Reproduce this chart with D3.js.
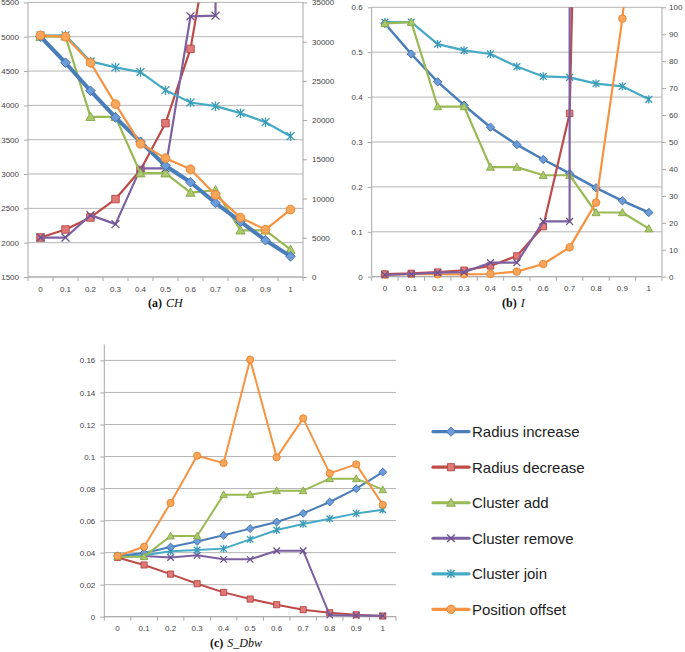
<!DOCTYPE html>
<html><head><meta charset="utf-8">
<script src="https://cdn.jsdelivr.net/npm/d3@7"></script>
<style>
html,body{margin:0;padding:0;background:#fff;}
svg{display:block;}
</style></head>
<body>
<svg id="chart" width="685" height="652"></svg>
<script>
// ---------- DATA ----------
const xCats = ["0","0.1","0.2","0.3","0.4","0.5","0.6","0.7","0.8","0.9","1"];
const seriesNames = ["Radius increase","Radius decrease","Cluster add","Cluster remove","Cluster join","Position offset"];

// (a) CH  — left axis series
const chRadiusIncrease = [5000,4621,4212,3824,3469,3120,2880,2579,2307,2035,1801];
const chClusterAdd     = [5000,5005,3833,3833,3012,3012,2730,2764,2180,2180,1899];
const chClusterJoin    = [5018,5020,4640,4553,4485,4222,4042,3989,3887,3755,3551];
const chPositionOffset = [5019,5000,4621,4018,3440,3231,3070,2696,2365,2190,2482];
// (a) CH — right axis series
const chRadiusDecrease = [5030,6053,7588,9933,13641,19610,29074,47500,90000,200000,500000];
const chClusterRemove  = [5030,5030,7886,6735,13845,13845,33225,33310,1000000,1000000,1000000];
const chLeftTicks  = [1500,2000,2500,3000,3500,4000,4500,5000,5500];
const chRightTicks = [0,5000,10000,15000,20000,25000,30000,35000];

// (b) I — left axis series
const iRadiusIncrease = [0.564,0.496,0.434,0.382,0.333,0.294,0.261,0.230,0.198,0.169,0.143];
const iClusterAdd     = [0.564,0.567,0.379,0.379,0.244,0.244,0.226,0.226,0.143,0.143,0.107];
const iClusterJoin    = [0.567,0.567,0.518,0.504,0.496,0.468,0.446,0.444,0.430,0.424,0.395];
// (b) I — right axis series
const iRadiusDecrease = [1.0,1.2,1.7,2.4,4.0,7.7,18.6,60.6,480,2000,5000];
const iClusterRemove  = [0.7,1.0,1.5,1.7,5.2,5.2,20.5,20.5,100000,100000,100000];
const iPositionOffset = [0.7,1.0,0.9,0.9,1.0,1.9,4.7,10.9,27.5,95.8,200];
const iLeftTicks  = [0,0.1,0.2,0.3,0.4,0.5,0.6];
const iRightTicks = [0,10,20,30,40,50,60,70,80,90,100];

// (c) S_Dbw
const sRadiusIncrease = [0.0379,0.0398,0.0435,0.0470,0.0508,0.0550,0.0591,0.0645,0.0716,0.0799,0.0903];
const sRadiusDecrease = [0.0370,0.0323,0.0266,0.0206,0.0152,0.0110,0.0075,0.0044,0.0025,0.0012,0.0004];
const sClusterAdd     = [0.0375,0.0375,0.0504,0.0504,0.0762,0.0762,0.0787,0.0787,0.0862,0.0862,0.0793];
const sClusterRemove  = [0.0375,0.0379,0.0370,0.0383,0.0358,0.0358,0.0412,0.0412,0.0010,0.0008,0.0006];
const sClusterJoin    = [0.0379,0.0383,0.0408,0.0416,0.0425,0.0483,0.0541,0.0579,0.0612,0.0645,0.0668];
const sPositionOffset = [0.0379,0.0437,0.0710,0.1005,0.0959,0.1605,0.0995,0.1238,0.0895,0.0951,0.0699];
const sTicks = [0,0.02,0.04,0.06,0.08,0.1,0.12,0.14,0.16];

// ---------- STYLE ----------
const lineColors   = ["#4a7ebb","#be4b48","#98b954","#7d60a0","#46aac5","#f69240"];
const markerFill   = ["#6b9bd9","#e07a78","#abc96c","#9179b4","#5cbdd6","#f9a55a"];
const markerStroke = ["#3f6fa8","#b44441","#86a648","#6d5290","#3a9ab5","#e9812f"];
const markerKinds  = ["diamond","square","triangle","x","asterisk","circle"];

const svg = d3.select("#chart");
const defs = svg.append("defs");
const tickFont = "Liberation Sans, Arial, sans-serif";

function markerPath(kind, s){
  const p = d3.path();
  if(kind==="diamond"){ const r=4.4*s; p.moveTo(0,-r);p.lineTo(r,0);p.lineTo(0,r);p.lineTo(-r,0);p.closePath(); }
  else if(kind==="square"){ const r=3.4*s; p.rect(-r,-r,2*r,2*r); }
  else if(kind==="triangle"){ const r=4.2*s; p.moveTo(0,-r);p.lineTo(r,r*0.8);p.lineTo(-r,r*0.8);p.closePath(); }
  else if(kind==="circle"){ const r=4*s; p.arc(0,0,r,0,2*Math.PI); }
  else if(kind==="x"){ const r=3.6*s; p.moveTo(-r,-r);p.lineTo(r,r);p.moveTo(r,-r);p.lineTo(-r,r); }
  else if(kind==="asterisk"){ const r=3.6*s; p.moveTo(-r,-r);p.lineTo(r,r);p.moveTo(r,-r);p.lineTo(-r,r);p.moveTo(0,-r*1.2);p.lineTo(0,r*1.2); }
  return p.toString();
}

function drawMarker(g, kind, idx, cx, cy, s){
  const stroked = (kind==="x"||kind==="asterisk");
  g.append("path").attr("d", markerPath(kind,s))
    .attr("transform",`translate(${cx},${cy})`)
    .attr("fill", stroked ? "none" : markerFill[idx])
    .attr("stroke", markerStroke[idx])
    .attr("stroke-width", stroked ? 1.3 : 0.9);
}

function drawPanel(cfg){
  const g = svg.append("g");
  const x = d3.scalePoint().domain(xCats).range([cfg.x0,cfg.x1]).padding(0.5);
  const yL = d3.scaleLinear().domain(cfg.leftDomain).range([cfg.yBot,cfg.yTop]);
  const yR = cfg.rightDomain ? d3.scaleLinear().domain(cfg.rightDomain).range([cfg.yBot,cfg.yTop]) : null;
  const step = x.step();

  // gridlines
  g.append("g").selectAll("line").data(cfg.leftTicks).join("line")
    .attr("x1",cfg.x0).attr("x2",cfg.x1)
    .attr("y1",d=>yL(d)).attr("y2",d=>yL(d))
    .attr("stroke","#b5b5b5").attr("stroke-width",1);

  // left axis
  const la = g.append("g").attr("transform",`translate(${cfg.x0},0)`)
    .call(d3.axisLeft(yL).tickValues(cfg.leftTicks).tickSize(4).tickPadding(5).tickFormat(d=>String(d)));
  la.select(".domain").attr("stroke","#a8a8a8").attr("d",`M-0,${cfg.yBot}V${cfg.yTop}`);
  la.selectAll(".tick line").attr("stroke","#a8a8a8");
  la.selectAll("text").attr("font-family",tickFont).attr("font-size",8).attr("fill","#444");

  if(yR){
    const ra = g.append("g").attr("transform",`translate(${cfg.x1},0)`)
      .call(d3.axisRight(yR).tickValues(cfg.rightTicks).tickSize(4).tickPadding(cfg.rightPad).tickFormat(d=>String(d)));
    ra.select(".domain").attr("stroke","#a8a8a8").attr("d",`M0,${cfg.yBot}V${cfg.yTop}`);
    ra.selectAll(".tick line").attr("stroke","#a8a8a8");
    ra.selectAll("text").attr("font-family",tickFont).attr("font-size",8).attr("fill","#444");
  }

  // x axis
  const xa = g.append("g").attr("transform",`translate(0,${cfg.yBot})`);
  xa.append("line").attr("x1",cfg.x0).attr("x2",cfg.x1).attr("y1",0).attr("y2",0).attr("stroke","#a8a8a8");
  const bounds = d3.range(xCats.length+1).map(i=>cfg.x0+i*step);
  xa.selectAll("line.tk").data(bounds).join("line").attr("class","tk")
    .attr("x1",d=>d).attr("x2",d=>d).attr("y1",0).attr("y2",4).attr("stroke","#a8a8a8");
  xa.selectAll("text").data(xCats).join("text")
    .attr("x",d=>x(d)).attr("y",14.5).attr("text-anchor","middle")
    .attr("font-family",tickFont).attr("font-size",8).attr("fill","#444").text(d=>d);

  // clip
  const cid = "clip"+cfg.id;
  defs.append("clipPath").attr("id",cid).append("rect")
    .attr("x",cfg.x0-8).attr("y",cfg.yTop).attr("width",cfg.x1-cfg.x0+16).attr("height",cfg.yBot-cfg.yTop+8);

  const plot = g.append("g").attr("clip-path",`url(#${cid})`);
  cfg.series.forEach(sr=>{
    const y = sr.axis==="right" ? yR : yL;
    const line = d3.line().x((d,i)=>x(xCats[i])).y(d=>y(d));
    sr.el = plot.append("g");
    sr.el.append("path").datum(sr.values).attr("d",line)
      .attr("fill","none").attr("stroke",lineColors[sr.idx])
      .attr("stroke-width",sr.width||2).attr("stroke-linejoin","round").attr("stroke-linecap","round");
  });
  cfg.series.forEach(sr=>{
    const y = sr.axis==="right" ? yR : yL;
    sr.values.forEach((v,i)=>{
      const py = y(v);
      if(py < cfg.yTop-6) return;
      drawMarker(sr.el, markerKinds[sr.idx], sr.idx, x(xCats[i]), py, cfg.ms);
    });
  });

  // caption
  const cap = svg.append("text").attr("x",cfg.capX).attr("y",cfg.capY)
    .attr("font-family","Liberation Serif, 'DejaVu Serif', serif").attr("font-size",12).attr("fill","#111");
  cap.append("tspan").attr("font-weight","bold").text(cfg.capA);
  cap.append("tspan").attr("font-style","italic").attr("dx",4).text(cfg.capB);
}

drawPanel({
  id:"a", x0:28, x1:303, yTop:2.4, yBot:277,
  leftDomain:[1500,5500], leftTicks:chLeftTicks,
  rightDomain:[0,35000], rightTicks:chRightTicks, rightPad:5,
  ms:1.1, capX:148, capY:307, capA:"(a)", capB:"CH",
  series:[
    {idx:1, values:chRadiusDecrease, axis:"right", width:2.2},
    {idx:3, values:chClusterRemove, axis:"right", width:2.2},
    {idx:4, values:chClusterJoin, axis:"left", width:2.2},
    {idx:2, values:chClusterAdd, axis:"left", width:2.2},
    {idx:0, values:chRadiusIncrease, axis:"left", width:4},
    {idx:5, values:chPositionOffset, axis:"left", width:2.2}
  ]
});

drawPanel({
  id:"b", x0:371.7, x1:662, yTop:7.3, yBot:276.7,
  leftDomain:[0,0.6], leftTicks:iLeftTicks,
  rightDomain:[0,100], rightTicks:iRightTicks, rightPad:3,
  ms:0.95, capX:502, capY:307, capA:"(b)", capB:"I",
  series:[
    {idx:4, values:iClusterJoin, axis:"left", width:2.2},
    {idx:0, values:iRadiusIncrease, axis:"left", width:2.5},
    {idx:2, values:iClusterAdd, axis:"left", width:2.2},
    {idx:5, values:iPositionOffset, axis:"right", width:2.2},
    {idx:1, values:iRadiusDecrease, axis:"right", width:2.2},
    {idx:3, values:iClusterRemove, axis:"right", width:2.2}
  ]
});

drawPanel({
  id:"c", x0:104.3, x1:396, yTop:344.4, yBot:616.7,
  leftDomain:[0,0.17], leftTicks:sTicks,
  rightDomain:null,
  ms:0.9, capX:210, capY:647, capA:"(c)", capB:"S_Dbw",
  series:[
    {idx:1, values:sRadiusDecrease, width:2},
    {idx:3, values:sClusterRemove, width:2},
    {idx:4, values:sClusterJoin, width:2},
    {idx:0, values:sRadiusIncrease, width:2},
    {idx:2, values:sClusterAdd, width:2},
    {idx:5, values:sPositionOffset, width:2}
  ]
});

// legend
const legY = d3.scalePoint().domain(seriesNames).range([431.7,609.3]);
const leg = svg.append("g");
seriesNames.forEach((nm,i)=>{
  const yy = legY(nm);
  leg.append("line").attr("x1",433).attr("x2",469).attr("y1",yy).attr("y2",yy)
    .attr("stroke",lineColors[i]).attr("stroke-width",3.2).attr("stroke-linecap","round");
  drawMarker(leg, markerKinds[i], i, 451, yy, 1.05);
  leg.append("text").attr("x",472).attr("y",yy).attr("dy","0.36em")
    .attr("font-family","Liberation Sans, Arial, sans-serif").attr("font-size",15).attr("fill","#222").text(nm);
});
</script>
</body></html>
